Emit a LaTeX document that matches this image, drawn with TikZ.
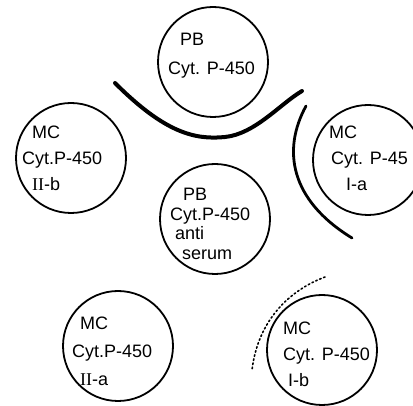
\documentclass[tikz,border=0pt]{standalone}
\usepackage{fontspec}
\setmainfont{Liberation Sans}
\newfontfamily\romfont{Liberation Serif}
\begin{document}
\begin{tikzpicture}[x=1pt,y=-1pt,
  dish/.style={draw,circle,line width=1.8pt,minimum size=110pt,inner sep=0pt},
  txt/.style={anchor=west,align=left,font=\fontsize{18}{26}\selectfont,inner sep=0pt},
  txtc/.style={anchor=west,align=left,font=\fontsize{18}{19.5}\selectfont,inner sep=0pt},
  band/.style={line width=4pt,line cap=round},
  arcline/.style={line width=2.8pt,line cap=round},
  dotline/.style={line width=1.6pt,dash pattern=on 1.6pt off 2.6pt,line cap=round}]
\useasboundingbox (0,0) rectangle (413,406);
\clip (0,0) rectangle (413,406);
\fill[white] (0,0) rectangle (413,406);
% dishes
\node[dish] (pb) at (213,62) {};
\node[dish] (iib) at (71,158) {};
\node[dish] (ia) at (368,160) {};
\node[dish] (anti) at (215,219) {};
\node[dish] (iia) at (118,346) {};
\node[dish] (ib) at (322,350) {};
% labels
\node[txt,font=\fontsize{18}{29}\selectfont] (tpb) at (168,56) {\hspace*{12pt}PB\\Cyt. P-450};
\node[txt] (tiib) at (22,158) {\hspace*{10pt}MC\\Cyt.P-450\\\hspace*{10pt}{\romfont II}-b};
\node[txt] (tia) at (329,158) {MC\\\hspace*{2pt}Cyt. P-45\\\hspace*{17pt}I-a};
\node[txtc] (tanti) at (170,224) {\hspace*{13pt}PB\\Cyt.P-450\\\hspace*{5pt}anti\\\hspace*{12pt}serum};
\node[txt,font=\fontsize{18}{28}\selectfont] (tiia) at (72,351) {\hspace*{8pt}MC\\Cyt.P-450\\\hspace*{8pt}{\romfont II}-a};
\node[txt] (tib) at (283,354) {MC\\Cyt. P-450\\\hspace*{5pt}I-b};
% precipitin lines
\coordinate (k1) at (115,83);
\coordinate (k2) at (302,91);
\coordinate (km) at (225,137);
\draw[band] (k1) .. controls (165,133) and (195,140) .. (km) .. controls (255,134) and (280,104) .. (k2);
\coordinate (r1) at (306,106);
\coordinate (r2) at (352,238);
\draw[arcline] (r1) .. controls (282,150) and (290,200) .. (r2);
\coordinate (d1) at (325,277);
\coordinate (d2) at (252,370);
\draw[dotline] (d1) .. controls (290,290) and (258,320) .. (d2);
\end{tikzpicture}
\end{document}
